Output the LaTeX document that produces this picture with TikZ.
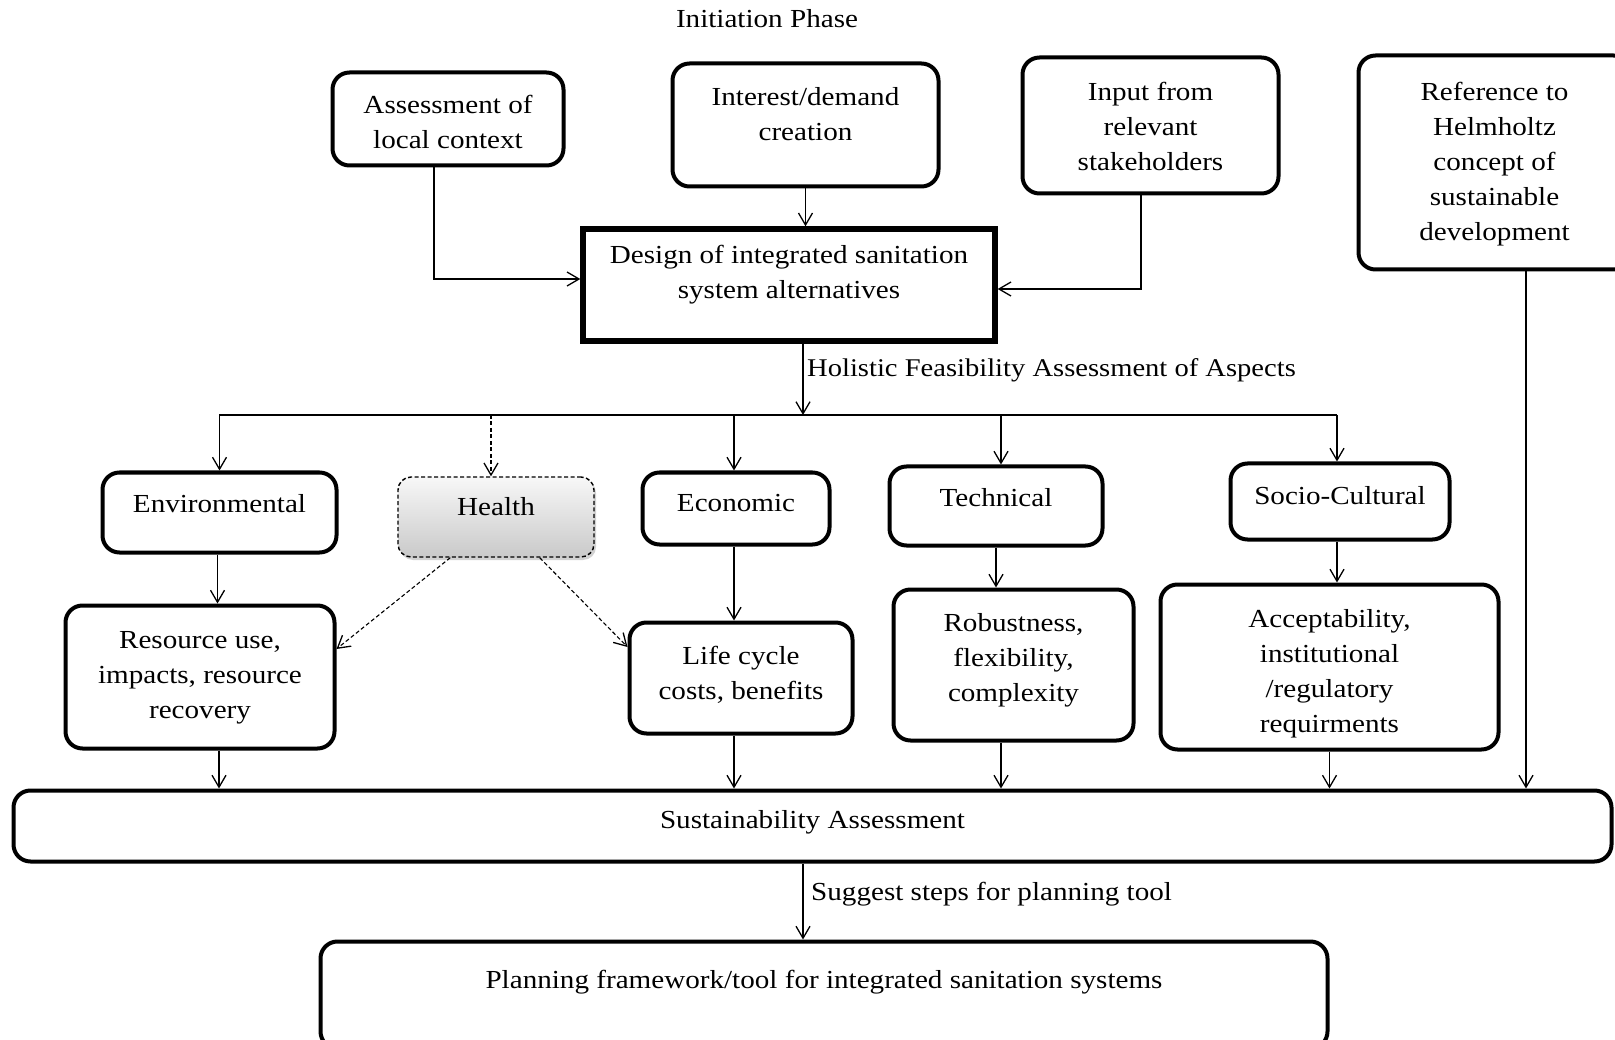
\documentclass[tikz,border=0pt]{standalone}
\usepackage{fontspec}
\setmainfont{Liberation Serif}[FakeStretch=1.12]
\usetikzlibrary{arrows.meta,shadows,calc}

\begin{document}
\begin{tikzpicture}[x=1pt,y=-1pt,
  box/.style={draw, line width=4pt, rounded corners=17pt, inner sep=0pt},
  sharpbox/.style={draw, line width=5.4pt, inner sep=0pt},
  dashbox/.style={draw, line width=1.4pt, dash pattern=on 4pt off 2.5pt,
    rounded corners=13pt, top color=gray!6, bottom color=gray!42,
    drop shadow={shadow xshift=2pt, shadow yshift=-3pt, opacity=0.35}, inner sep=0pt},
  lbl/.style={font=\fontsize{26}{35}\selectfont, align=center, inner sep=0pt, yshift=-2.5pt},
  tip/.tip={Straight Barb[length=12pt,width=14pt,line width=1.3pt]},
  line/.style={line width=1.3pt},
  conn/.style={line width=1.3pt, -tip},
  dconn/.style={line width=1.1pt, dash pattern=on 4pt off 2.5pt, -tip},
]
\useasboundingbox (0,0) rectangle (1615,1040);
\fill[white] (0,0) rectangle (1615,1040);

% heading
\node[lbl] (phase) at (767,16) {Initiation Phase};

% inputs
\node[box, minimum width=231pt, minimum height=93pt] (assess) at (448,119) {};
\node[lbl] (assess-t) at (448,119) {Assessment of\\local context};
\node[box, minimum width=266pt, minimum height=123pt] (interest) at (805.5,125) {};
\node[lbl] (interest-t) at (805.5,112) {Interest/demand\\creation};
\node[box, minimum width=256pt, minimum height=136pt] (input) at (1150.5,125.5) {};
\node[lbl] (input-t) at (1150.5,124) {Input from\\relevant\\stakeholders};
\node[box, minimum width=272pt, minimum height=214pt] (helm) at (1494.5,162.5) {};
\node[lbl] (helm-t) at (1494.5,162) {Reference to\\Helmholtz\\concept of\\sustainable\\development};

% design
\node[sharpbox, minimum width=412pt, minimum height=112pt] (design) at (789,285) {};
\node[lbl] (design-t) at (789,272) {Design of integrated sanitation\\system alternatives};

% aspects
\node[box, minimum width=234pt, minimum height=80pt] (env) at (219.5,512.5) {};
\node[lbl] (env-t) at (219.5,501) {Environmental};
\node[dashbox, minimum width=196pt, minimum height=80pt] (health) at (496,517) {};
\node[lbl] (health-t) at (496,504) {Health};
\node[box, minimum width=187pt, minimum height=72pt] (econ) at (736,508.5) {};
\node[lbl] (econ-t) at (736,501) {Economic};
\node[box, minimum width=213pt, minimum height=79pt] (tech) at (996,506) {};
\node[lbl] (tech-t) at (996,495) {Technical};
\node[box, minimum width=219pt, minimum height=76pt] (socio) at (1340,501.5) {};
\node[lbl] (socio-t) at (1340,493) {Socio-Cultural};

% criteria
\node[box, minimum width=269pt, minimum height=143pt] (res) at (200,677) {};
\node[lbl] (res-t) at (200,675) {Resource use,\\impacts, resource\\recovery};
\node[box, minimum width=223pt, minimum height=111pt] (life) at (741,678) {};
\node[lbl] (life-t) at (741,672) {Life cycle\\costs, benefits};
\node[box, minimum width=240pt, minimum height=151pt] (rob) at (1013.5,665) {};
\node[lbl] (rob-t) at (1013.5,658) {Robustness,\\flexibility,\\complexity};
\node[box, minimum width=338pt, minimum height=165pt] (acc) at (1329.5,667) {};
\node[lbl] (acc-t) at (1329.5,671) {Acceptability,\\institutional\\/regulatory\\requirments};

% results
\node[box, minimum width=1598pt, minimum height=71pt] (sust) at (812.5,826) {};
\node[lbl] (sust-t) at (812.5,820) {Sustainability Assessment};
\node[box, minimum width=1007pt, minimum height=107pt] (plan) at (824,995) {};
\node[lbl] (plan-t) at (824,980) {Planning framework/tool for integrated sanitation systems};

% connector anchor points
\coordinate (assessOut) at ([xshift=-14pt]assess.south);
\coordinate (inputOut) at ([xshift=-9.5pt]input.south);
\coordinate (hub) at (803,415);
\coordinate (barL) at (219,415);
\coordinate (barR) at (1337,415);
\coordinate (healthIn) at ([xshift=-5pt]health.north);
\coordinate (econIn) at ([xshift=-2pt]econ.north);
\coordinate (techIn) at ([xshift=5pt]tech.north);
\coordinate (envOut) at ([xshift=-2pt]env.south);
\coordinate (econOut) at ([xshift=-2pt]econ.south);
\coordinate (socioOut) at ([xshift=-3pt]socio.south);
\coordinate (healthL) at ([xshift=53pt]health.south west);
\coordinate (healthR) at ([xshift=-55pt]health.south east);
\coordinate (resIn) at ([yshift=28pt]res.east);
\coordinate (lifeIn) at ([yshift=31pt]life.west);
\coordinate (resOut) at ([xshift=19pt]res.south);
\coordinate (lifeOut) at ([xshift=-7pt]life.south);
\coordinate (robOut) at ([xshift=-12.5pt]rob.south);
\coordinate (helmOut) at ([xshift=31.5pt]helm.south);
\coordinate (sustOut) at ([xshift=-9.5pt]sust.south);

% initiation connectors
\draw[conn] (assessOut) |- (design.west |- 0,279);
\draw[conn] (interest.south) -- (design.north -| interest.south);
\draw[conn] (inputOut) |- (design.east |- 0,289);

% distribution bar
\draw[conn] (design.south -| hub) -- (hub);
\node[lbl, anchor=west, font=\fontsize{25.5}{35}\selectfont] (holistic) at (807,368) {Holistic Feasibility Assessment of Aspects};
\draw[line] (barL) -- (barR);
\draw[conn] (env.north |- barL) -- (env.north);
\draw[dconn] (healthIn |- barL) -- (healthIn);
\draw[conn] (econIn |- barL) -- (econIn);
\draw[conn] (techIn |- barL) -- (techIn);
\draw[conn] (barR) -- (barR |- socio.north);

% aspect to criteria
\draw[conn] (envOut) -- (res.north -| envOut);
\draw[dconn] (healthL) -- (resIn);
\draw[dconn] (healthR) -- (lifeIn);
\draw[conn] (econOut) -- (life.north -| econOut);
\draw[conn] (tech.south) -- (rob.north -| tech.south);
\draw[conn] (socioOut) -- (acc.north -| socioOut);

% criteria to sustainability
\draw[conn] (resOut) -- (sust.north -| resOut);
\draw[conn] (lifeOut) -- (sust.north -| lifeOut);
\draw[conn] (robOut) -- (sust.north -| robOut);
\draw[conn] (acc.south) -- (sust.north -| acc.south);
\draw[conn] (helmOut) -- (sust.north -| helmOut);

% final step
\draw[conn] (sustOut) -- (plan.north -| sustOut);
\node[lbl, anchor=west] (suggest) at (811,892) {Suggest steps for planning tool};
\end{tikzpicture}
\end{document}
